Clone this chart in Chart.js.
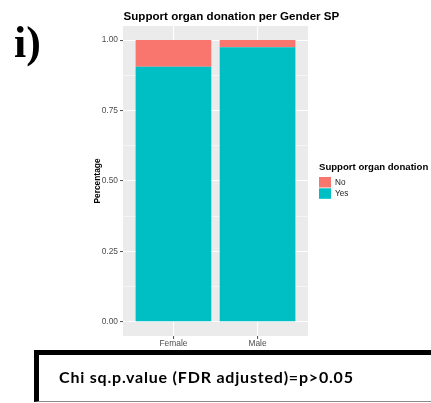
<!DOCTYPE html>
<html>
<head>
<meta charset="utf-8">
<script src="https://cdn.jsdelivr.net/npm/chart.js@4/dist/chart.umd.min.js"></script>
<style>
    html, body { margin: 0; padding: 0; background: #fff; overflow: hidden; }
    #wrap { position: relative; width: 431px; height: 403px; }
    #genderChart { position: absolute; left: 0; top: 0; }
    .panel-tag {
        position: absolute; left: 14px; top: 21px;
        font: bold 44px "Liberation Serif", serif; line-height: 1; color: #000;
    }
    .stat-box {
        position: absolute; left: 34px; top: 350px; width: 420px; height: 46px;
        border-top: 5px solid #000; border-left: 5px solid #000; border-bottom: 1px solid #8a8a8a;
        box-sizing: content-box;
    }
    .stat-box span {
        position: absolute; left: 20px; top: 12px;
        font: bold 16px Lato, "Noto Sans", sans-serif; letter-spacing: 0.8px;
        color: #000; white-space: nowrap;
    }
</style>
</head>
<body>
<div id="wrap">
    <canvas id="genderChart" width="431" height="403"></canvas>
    <div class="panel-tag">i)</div>
    <div class="stat-box"><span>Chi sq.p.value (FDR adjusted)=p&gt;0.05</span></div>
</div>
<script>
// Tỷ lệ ủng hộ hiến tạng theo giới tính
const genders = ['Female', 'Male'];
const yesShare = [0.905, 0.975];
const noShare = [0.095, 0.025];
const majorTicks = [0, 0.25, 0.5, 0.75, 1];
const minorTicks = [0.125, 0.375, 0.625, 0.875];

const chartTitle = 'Support organ donation per Gender SP';
const legendTitle = 'Support organ donation';

// Nền xám của vùng vẽ (kiểu ggplot)
const panelBg = {
    id: 'panelBg',
    beforeDraw(chart) {
        const { ctx, chartArea: a } = chart;
        ctx.save();
        ctx.fillStyle = '#EBEBEB';
        ctx.fillRect(a.left, a.top, a.right - a.left, a.bottom - a.top);
        ctx.restore();
    }
};

// Tiêu đề + chú giải vẽ tay
const decorations = {
    id: 'decorations',
    afterDraw(chart) {
        const { ctx, chartArea: a } = chart;
        ctx.save();
        ctx.fillStyle = '#000';
        ctx.font = 'bold 11.6px "Liberation Sans", Arial, sans-serif';
        ctx.textBaseline = 'alphabetic';
        ctx.fillText(chartTitle, a.left + 0.5, 20.3);

        const lx = 319;
        ctx.font = 'bold 9.6px "Liberation Sans", Arial, sans-serif';
        ctx.fillText(legendTitle, lx, 170.2);

        // No ở trên, Yes ở dưới (ngược thứ tự chồng cột)
        const items = chart.data.datasets.slice().reverse();
        ctx.font = '8.2px "Liberation Sans", Arial, sans-serif';
        ctx.textBaseline = 'middle';
        items.forEach((ds, i) => {
            const y = 177 + i * 11.3;
            ctx.fillStyle = ds.backgroundColor;
            ctx.fillRect(lx, y, 12, 10.5);
            ctx.fillStyle = '#1a1a1a';
            ctx.fillText(ds.label, lx + 16, y + 5.5);
        });
        ctx.restore();
    }
};

const ctx = document.getElementById('genderChart').getContext('2d');
const genderChart = new Chart(ctx, {
    type: 'bar',
    data: {
        datasets: [{
            label: 'Yes',
            data: yesShare.map((v, i) => ({ x: i + 1, y: v })),
            backgroundColor: '#00BFC4',
            borderWidth: 0
        }, {
            label: 'No',
            data: noShare.map((v, i) => ({ x: i + 1, y: v })),
            backgroundColor: '#F8766D',
            borderWidth: 0
        }]
    },
    options: {
        responsive: false,
        animation: false,
        devicePixelRatio: 1,
        barPercentage: 0.9,
        categoryPercentage: 1,
        layout: { padding: { left: 83, right: 123, top: 26, bottom: 51 } },
        plugins: {
            legend: { display: false },
            tooltip: { enabled: false }
        },
        scales: {
            x: {
                type: 'linear',
                min: 0.4,
                max: 2.6,
                stacked: true,
                offset: false,
                afterBuildTicks(scale) {
                    scale.ticks = genders.map((g, i) => ({ value: i + 1 }));
                },
                afterFit(scale) { scale.height = 16; },
                ticks: {
                    autoSkip: false,
                    maxRotation: 0,
                    padding: 0,
                    color: '#4D4D4D',
                    font: { family: '"Liberation Sans", Arial, sans-serif', size: 8.4 },
                    callback: (v, i) => genders[i]
                },
                grid: {
                    offset: false,
                    color: '#FFFFFF',
                    lineWidth: 1.1,
                    tickLength: 3,
                    tickColor: '#4D4D4D',
                    tickWidth: 1
                },
                border: { display: false }
            },
            y: {
                min: -0.05,
                max: 1.05,
                stacked: true,
                afterBuildTicks(scale) {
                    scale.ticks = majorTicks.concat(minorTicks)
                        .sort((a, b) => a - b)
                        .map(v => ({ value: v, major: majorTicks.includes(v) }));
                },
                afterFit(scale) { scale.width = 40; },
                ticks: {
                    autoSkip: false,
                    padding: 2,
                    color: '#4D4D4D',
                    font: { family: '"Liberation Sans", Arial, sans-serif', size: 8.4 },
                    callback: v => majorTicks.includes(v) ? v.toFixed(2) : ''
                },
                grid: {
                    color: '#FFFFFF',
                    lineWidth: c => (c.tick && c.tick.major) ? 1.1 : 0.5,
                    tickLength: 3,
                    tickColor: c => (c.tick && c.tick.major) ? '#4D4D4D' : 'rgba(0,0,0,0)',
                    tickWidth: 1
                },
                border: { display: false },
                title: {
                    display: true,
                    text: 'Percentage',
                    color: '#000',
                    padding: { top: 10, bottom: 0 },
                    font: { family: '"Liberation Sans", Arial, sans-serif', size: 8.4, weight: 'bold' }
                }
            }
        }
    },
    plugins: [panelBg, decorations]
});
</script>
</body>
</html>
